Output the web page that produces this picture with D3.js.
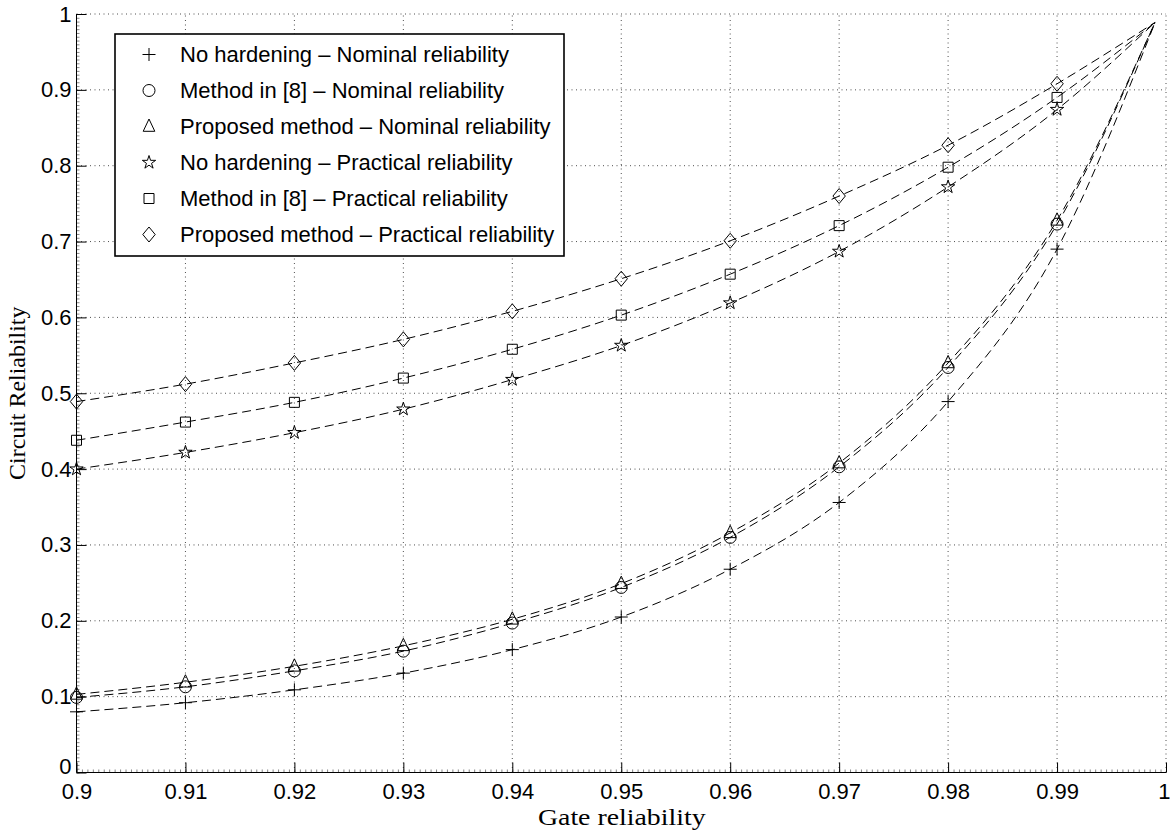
<!DOCTYPE html>
<html><head><meta charset="utf-8">
<script src="https://cdn.jsdelivr.net/npm/d3@7"></script>
<style>body{margin:0;background:#fff}</style>
</head><body><svg id="chart" width="1170" height="831"></svg>
<script>
// ---- data ----
const gateReliability = [0.90, 0.91, 0.92, 0.93, 0.94, 0.95, 0.96, 0.97, 0.98, 0.99];
const curveEndGate = 0.999;          // where all dashed curves meet
const curveEndValue = 0.989;
const noHardeningNominal   = [0.080, 0.092, 0.109, 0.131, 0.162, 0.205, 0.268, 0.356, 0.489, 0.690];
const method8Nominal       = [0.099, 0.113, 0.134, 0.160, 0.197, 0.244, 0.310, 0.403, 0.534, 0.723];
const proposedNominal      = [0.103, 0.119, 0.140, 0.167, 0.202, 0.249, 0.316, 0.408, 0.540, 0.728];
const noHardeningPractical = [0.400, 0.422, 0.448, 0.479, 0.518, 0.563, 0.619, 0.687, 0.772, 0.874];
const method8Practical     = [0.438, 0.462, 0.488, 0.520, 0.558, 0.603, 0.657, 0.721, 0.798, 0.890];
const proposedPractical    = [0.489, 0.512, 0.540, 0.571, 0.608, 0.651, 0.701, 0.760, 0.827, 0.908];
const seriesNames = [
  "No hardening \u2013 Nominal reliability",
  "Method in [8] \u2013 Nominal reliability",
  "Proposed method \u2013 Nominal reliability",
  "No hardening \u2013 Practical reliability",
  "Method in [8] \u2013 Practical reliability",
  "Proposed method \u2013 Practical reliability"
];
const seriesMarkers = ["plus", "circle", "triangle", "star", "square", "diamond"];
const xTicks = [0.9, 0.91, 0.92, 0.93, 0.94, 0.95, 0.96, 0.97, 0.98, 0.99, 1];
const xTickLabels = ["0.9","0.91","0.92","0.93","0.94","0.95","0.96","0.97","0.98","0.99","1"];
const yTicks = [0, 0.1, 0.2, 0.3, 0.4, 0.5, 0.6, 0.7, 0.8, 0.9, 1];
const yTickLabels = ["0","0.1","0.2","0.3","0.4","0.5","0.6","0.7","0.8","0.9","1"];
const xTitle = "Gate reliability";
const yTitle = "Circuit Reliability";

const seriesValues = [noHardeningNominal, method8Nominal, proposedNominal,
                      noHardeningPractical, method8Practical, proposedPractical];

// ---- layout ----
const svg = d3.select("#chart");
const L = 76.5, R = 1166, T = 14, B = 772.5;
const x = d3.scaleLinear().domain([0.9, 1]).range([L, R]);
const y = d3.scaleLinear().domain([0, 1]).range([B, T]);
const sansFont = "'Liberation Sans', Arial, Helvetica, sans-serif";
const serifFont = "'Liberation Serif', 'Times New Roman', serif";

// grid
const grid = svg.append("g").attr("stroke", "#222").attr("stroke-width", 0.8)
  .attr("stroke-dasharray", "1,3.5");
grid.selectAll("line.v").data(xTicks.slice(1)).join("line")
  .attr("x1", d => x(d)).attr("x2", d => x(d)).attr("y1", B).attr("y2", T);
grid.selectAll("line.h").data(yTicks.slice(1)).join("line")
  .attr("x1", L).attr("x2", R).attr("y1", d => y(d)).attr("y2", d => y(d));

// axes (ticks inward)
const xMinor = d3.range(0, 201).map(i => 0.9 + i * 0.0005);
const yMinor = d3.range(0, 201).map(i => i * 0.005);
const xAxisMinor = d3.axisBottom(x).tickValues(xMinor).tickSize(-3).tickFormat("");
const yAxisMinor = d3.axisLeft(y).tickValues(yMinor).tickSize(-3).tickFormat("");
svg.append("g").attr("transform", `translate(0,${B})`).call(xAxisMinor)
  .call(g => g.select(".domain").remove())
  .call(g => g.selectAll("line").attr("stroke", "#333").attr("stroke-width", 0.6));
svg.append("g").attr("transform", `translate(${L},0)`).call(yAxisMinor)
  .call(g => g.select(".domain").remove())
  .call(g => g.selectAll("line").attr("stroke", "#333").attr("stroke-width", 0.6));

const xAxis = d3.axisBottom(x).tickValues(xTicks).tickSize(-10).tickPadding(11)
  .tickFormat((d, i) => xTickLabels[i]);
const yAxis = d3.axisLeft(y).tickValues(yTicks).tickSize(-10).tickPadding(5)
  .tickFormat((d, i) => yTickLabels[i]);
svg.append("g").attr("transform", `translate(0,${B})`).call(xAxis)
  .call(g => g.select(".domain").attr("d", `M${L},0H${R}`).attr("stroke", "#000"))
  .call(g => g.selectAll("line").attr("stroke", "#000"))
  .call(g => g.selectAll("text").attr("font-family", sansFont).attr("font-size", 22).attr("fill", "#000"))
  .call(g => g.selectAll(".tick").filter(d => d === 1).select("text")
               .attr("text-anchor", "end").attr("dx", 4));
svg.append("g").attr("transform", `translate(${L},0)`).call(yAxis)
  .call(g => g.select(".domain").attr("d", `M0,${B}V${T}`).attr("stroke", "#000"))
  .call(g => g.selectAll("line").attr("stroke", "#000"))
  .call(g => g.selectAll("text").attr("font-family", sansFont).attr("font-size", 22).attr("fill", "#000"))
  .call(g => g.selectAll(".tick").filter(d => d === 0).select("text").attr("dy", "0.05em"));

// axis titles
svg.append("text").attr("transform", `translate(${(L + R) / 2 + 0.5},825) scale(1.21,1)`)
  .attr("text-anchor", "middle")
  .attr("font-family", serifFont).attr("font-size", 23).text(xTitle);
svg.append("text").attr("transform", `translate(25,${(T + B) / 2}) rotate(-90) scale(1.04,1)`)
  .attr("text-anchor", "middle").attr("font-family", serifFont).attr("font-size", 23).text(yTitle);

// marker shapes
function markerPath(type) {
  switch (type) {
    case "plus": return "M-6.5,0H6.5M0,-6.5V6.5";
    case "circle": { const r = 6; return `M${r},0A${r},${r} 0 1,1 ${-r},0A${r},${r} 0 1,1 ${r},0Z`; }
    case "triangle": return "M0,-7.5L5.8,4.8L-5.8,4.8Z";
    case "square": return "M-5,-5H5V5H-5Z";
    case "diamond": return "M0,-7.5L6.2,0L0,7.5L-6.2,0Z";
    case "star": {
      const ro = 7, ri = ro * 0.382; let p = "";
      for (let k = 0; k < 10; k++) {
        const r = k % 2 ? ri : ro, a = -Math.PI / 2 + k * Math.PI / 5;
        p += (k ? "L" : "M") + (r * Math.cos(a)).toFixed(2) + "," + (r * Math.sin(a)).toFixed(2);
      }
      return p + "Z";
    }
  }
}

// series
const line = d3.line().x(d => x(d[0])).y(d => y(d[1])).curve(d3.curveMonotoneX);
seriesValues.forEach((vals, si) => {
  const pts = gateReliability.map((g, i) => [g, vals[i]]).concat([[curveEndGate, curveEndValue]]);
  svg.append("path").datum(pts).attr("d", line).attr("fill", "none")
    .attr("stroke", "#000").attr("stroke-width", 1).attr("stroke-dasharray", "9,5");
  svg.append("g").selectAll("path").data(gateReliability.map((g, i) => [g, vals[i]])).join("path")
    .attr("transform", d => `translate(${x(d[0])},${y(d[1])})`)
    .attr("d", markerPath(seriesMarkers[si]))
    .attr("fill", "none").attr("stroke", "#000").attr("stroke-width", 1);
});

// legend
const lg = svg.append("g");
lg.append("rect").attr("x", 115).attr("y", 34).attr("width", 449).attr("height", 222)
  .attr("fill", "#fff").attr("stroke", "#000").attr("stroke-width", 1.6);
const rowY = i => 54.5 + i * 36;
seriesNames.forEach((name, i) => {
  lg.append("path").attr("transform", `translate(149,${rowY(i)})`)
    .attr("d", markerPath(seriesMarkers[i])).attr("fill", "none").attr("stroke", "#000");
  lg.append("text").attr("x", 180).attr("y", rowY(i)).attr("dy", "0.36em")
    .attr("font-family", sansFont).attr("font-size", 22).attr("fill", "#000").text(name);
});
</script></body></html>
